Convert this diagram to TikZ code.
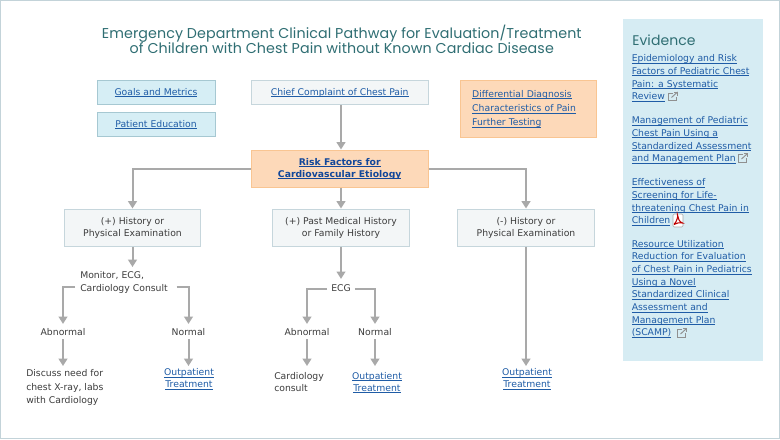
\documentclass[tikz,border=0pt]{standalone}
\usepackage{fontspec}
\setmainfont{DejaVu Sans}
\newfontfamily\titlefont{Poppins}[LetterSpace=0.6]
\usetikzlibrary{arrows.meta,positioning}

\definecolor{framecol}{HTML}{C3D3D9}
\definecolor{titlecol}{HTML}{2F6E73}
\definecolor{linkcol}{HTML}{1F5CA6}
\definecolor{riskcol}{HTML}{12479A}
\definecolor{bodycol}{HTML}{3C3C3C}
\definecolor{flowcol}{HTML}{A9A9A9}
\definecolor{bluefill}{HTML}{D6EEF5}
\definecolor{blueedge}{HTML}{A6C8D2}
\definecolor{greyfill}{HTML}{F3F6F7}
\definecolor{greyedge}{HTML}{C6D6DC}
\definecolor{orangefill}{HTML}{FDD9B9}
\definecolor{orangeedge}{HTML}{F9C592}
\definecolor{panelfill}{HTML}{D6ECF3}

% link text with a rule at a fixed depth
\newcommand{\lnk}[1]{\leavevmode\setbox0\hbox{#1}\rlap{\rule[-1.2pt]{\wd0}{0.45pt}}\box0}

\tikzset{
    basebox/.style={draw, line width=0.75pt, inner sep=0pt, align=center, text=linkcol,
        font=\fontsize{6.95}{9}\selectfont},
    bluebox/.style={basebox, fill=bluefill, draw=blueedge, minimum width=88.5pt, minimum height=18.5pt},
    greybox/.style={basebox, fill=greyfill, draw=greyedge, minimum width=102.5pt, minimum height=27.75pt},
    orangebox/.style={basebox, fill=orangefill, draw=orangeedge},
    plain/.style={inner sep=0pt, align=center, text=bodycol, font=\fontsize{6.95}{9}\selectfont},
    shortlabel/.style={plain, minimum height=11.25pt},
    outp/.style={inner xsep=0pt, inner ysep=2pt, align=center, text=linkcol, font=\fontsize{6.95}{9}\selectfont},
    evlink/.style={anchor=north west, inner sep=0pt, align=left, text=linkcol, font=\fontsize{6.95}{9.5}\selectfont},
    flow/.style={draw=flowcol, line width=1.5pt, -{Triangle[width=6.5pt,length=5.5pt]}},
    extlink/.pic={
        \draw[flowcol!85!black, line width=0.5pt] (5,1.5) -- (0.5,1.5) -- (0.5,9) -- (8,9) -- (8,5);
        \draw[flowcol!85!black, line width=0.7pt] (3.5,6) -- (9.5,0.5);
        \draw[flowcol!85!black, line width=0.7pt] (6,0.5) -- (9.5,0.5) -- (9.5,4);
    },
    pdflink/.pic={
        \draw[flowcol, fill=white, line width=0.4pt, rounded corners=1pt] (0,0) rectangle (10,13);
        \draw[red!75!black, line width=0.8pt] (1,10.5) .. controls (4,7) and (5,3) .. (4.5,1)
            .. controls (5,4) and (6,8) .. (9.5,9) .. controls (6,8.5) and (3,9) .. (1,10.5);
    }
}

\begin{document}
\begin{tikzpicture}[x=0.75pt,y=-0.75pt]
    \useasboundingbox (0,0) rectangle (780,439);
    \fill[white] (0,0) rectangle (780,439);
    \draw[framecol, line width=0.75pt] (0.5,0.5) rectangle (779.5,438.5);

    % Title
    \node[inner sep=0pt, align=center, text=titlecol, font=\titlefont\fontsize{10.7}{11.25}\selectfont] (title) at (341.8,39.5)
        {Emergency Department Clinical Pathway for Evaluation/Treatment\\
         of Children with Chest Pain without Known Cardiac Disease};

    % Top row
    \node[bluebox] (goals) at (156,92.5) {\lnk{Goals and Metrics}};
    \node[bluebox] (patientedu) at (156,124.5) {\lnk{Patient Education}};
    \node[basebox, fill=greyfill, draw=greyedge, minimum width=133pt, minimum height=18.5pt] (chief) at (339.7,92.5)
        {\lnk{Chief Complaint of Chest Pain}};
    \node[orangebox, anchor=north west, text width=84.2pt, inner xsep=8.8pt, minimum height=43pt, align=left,
        font=\fontsize{6.95}{10.7}\selectfont] (diff) at (460,80)
        {\lnk{Differential Diagnosis}\\ \lnk{Characteristics of Pain}\\ \lnk{Further Testing}};

    % Risk factors
    \node[orangebox, minimum width=133pt, minimum height=27.75pt, text=riskcol, font=\fontsize{6.95}{9}\selectfont\bfseries] (risk) at (339.7,168.5)
        {\lnk{Risk Factors for}\\ \lnk{Cardiovascular Etiology}};

    % Three branches
    \node[greybox, text=bodycol] (histpos) at (132.5,227.5) {(+) History or\\ Physical Examination};
    \node[greybox, text=bodycol] (pastpos) at (341,227.5) {(+) Past Medical History\\ or Family History};
    \node[greybox, text=bodycol] (histneg) at (526,227.5) {(-) History or\\ Physical Examination};

    % Left branch
    \node[plain, anchor=north west, text width=68.25pt, inner xsep=3.75pt, inner ysep=3pt, align=left,
        font=\fontsize{6.95}{10}\selectfont] (monitor) at (75,267) {Monitor, ECG,\\ Cardiology Consult};
    \node[shortlabel] (abnA) at (63,331.7) {Abnormal};
    \node[shortlabel] (normA) at (188.5,331.7) {Normal};
    \node[plain, anchor=north west, inner ysep=2.7pt, align=left, font=\fontsize{6.95}{10}\selectfont] (discuss) at (26,366)
        {Discuss need for\\ chest X-ray, labs\\ with Cardiology};
    \node[outp, anchor=north] (outpA) at (189,366) {\lnk{Outpatient}\\ \lnk{Treatment}};

    % Middle branch
    \node[plain, minimum width=20.25pt, minimum height=14pt] (ecg) at (341,288.5) {ECG};
    \node[shortlabel] (abnB) at (307,331.7) {Abnormal};
    \node[shortlabel] (normB) at (375,331.7) {Normal};
    \node[plain, anchor=north west, inner ysep=4.5pt, align=left] (consult) at (274,366) {Cardiology\\ consult};
    \node[outp, anchor=north, inner ysep=4.5pt] (outpB) at (377,366) {\lnk{Outpatient}\\ \lnk{Treatment}};

    % Right branch
    \node[outp, anchor=north] (outpC) at (527,366) {\lnk{Outpatient}\\ \lnk{Treatment}};

    % Connectors
    \draw[flow] (chief.south -| pastpos.north) -- (risk.north -| pastpos.north);
    \draw[flow] (risk.west) -| (histpos.north);
    \draw[flow] (risk.south -| pastpos.north) -- (pastpos.north);
    \draw[flow] (risk.east) -| (histneg.north);
    \draw[flow] (histpos.south) -- (histpos.south |- monitor.north);
    \draw[flow] ([yshift=-3.2pt]monitor.west) -| (abnA.north);
    \draw[flow] ([yshift=-3.2pt]monitor.east) -| (normA.north);
    \draw[flow] (abnA.south) -- (abnA.south |- discuss.north);
    \draw[flow] (normA.south) -- (normA.south |- outpA.north);
    \draw[flow] (pastpos) -- (ecg);
    \draw[flow] (ecg.west) -| (abnB.north);
    \draw[flow] (ecg.east) -| (normB.north);
    \draw[flow] (abnB.south) -- (abnB.south |- consult.north);
    \draw[flow] (normB.south) -- (normB.south |- outpB.north);
    \draw[flow] (histneg.south) -- (histneg.south |- outpC.north);

    % Evidence panel
    \fill[panelfill] (623,19) rectangle (763,360.5);
    \node[anchor=west, inner sep=0pt, text=titlecol, font=\titlefont\fontsize{10.5}{12}\selectfont] (evidence) at (632,40.5) {Evidence};
    \node[evlink] (evA) at (631.5,54.5)
        {\lnk{Epidemiology and Risk}\\ \lnk{Factors of Pediatric Chest}\\ \lnk{Pain: a Systematic}\\ \lnk{Review}};
    \node[evlink] (evB) at (631.5,116.5)
        {\lnk{Management of Pediatric}\\ \lnk{Chest Pain Using a}\\ \lnk{Standardized Assessment}\\ \lnk{and Management Plan}};
    \node[evlink] (evC) at (631.5,178.5)
        {\lnk{Effectiveness of}\\ \lnk{Screening for Life-}\\ \lnk{threatening Chest Pain in}\\ \lnk{Children}};
    \node[evlink] (evD) at (631.5,240)
        {\lnk{Resource Utilization}\\ \lnk{Reduction for Evaluation}\\ \lnk{of Chest Pain in Pediatrics}\\ \lnk{Using a Novel}\\
         \lnk{Standardized Clinical}\\ \lnk{Assessment and}\\ \lnk{Management Plan}\\ \lnk{(SCAMP)}};
    \foreach \x/\y in {668/91.5,738/153,677/328}
        \pic at (\x,\y) {extlink};
    \pic at (673,214) {pdflink};
\end{tikzpicture}
\end{document}
